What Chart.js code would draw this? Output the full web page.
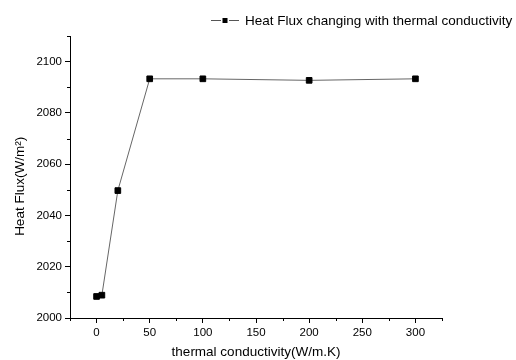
<!DOCTYPE html>
<html>
<head>
<meta charset="utf-8">
<script src="https://cdn.jsdelivr.net/npm/chart.js@4"></script>
<style>
html,body{margin:0;padding:0;background:#fff;}
#wrap{width:516px;height:360px;position:relative;}
</style>
</head>
<body>
<div id="wrap"><canvas id="c" width="516" height="360"></canvas></div>
<script>
const conductivity = [0, 5, 20, 50, 100, 200, 300];
const heatFlux = [2008.4, 2008.9, 2049.7, 2093.3, 2093.3, 2092.7, 2093.3];
const seriesLabel = 'Heat Flux changing with thermal conductivity';
const xTitle = 'thermal conductivity(W/m.K)';
const yTitle = 'Heat Flux(W/m\u00B2)     ';
const xMajorTicks = [0, 50, 100, 150, 200, 250, 300];
const xMinorTicks = [-25, 25, 75, 125, 175, 225, 275, 325];
const yMajorTicks = [2000, 2020, 2040, 2060, 2080, 2100];
const yMinorTicks = [2010, 2030, 2050, 2070, 2090, 2110];

const FONT = 'Liberation Sans, Arial, sans-serif';

const minorTickPlugin = {
  id: 'minorTicks',
  afterDraw(chart) {
    const ctx = chart.ctx;
    const xs = chart.scales.x, ys = chart.scales.y;
    ctx.save();
    ctx.strokeStyle = '#000';
    ctx.lineWidth = 1;
    ctx.beginPath();
    xMinorTicks.forEach(v => {
      const px = Math.round(xs.getPixelForValue(v)) + 0.5;
      ctx.moveTo(px, xs.top);
      ctx.lineTo(px, xs.top + 3);
    });
    yMinorTicks.forEach(v => {
      const py = Math.round(ys.getPixelForValue(v)) + 0.5;
      ctx.moveTo(ys.right, py);
      ctx.lineTo(ys.right - 3, py);
    });
    ctx.stroke();
    // legend
    const lx = 211, ly = 20;
    ctx.strokeStyle = '#555';
    ctx.beginPath();
    ctx.moveTo(lx, ly + 0.5); ctx.lineTo(lx + 10, ly + 0.5);
    ctx.moveTo(lx + 18, ly + 0.5); ctx.lineTo(lx + 28, ly + 0.5);
    ctx.stroke();
    ctx.fillStyle = '#000';
    ctx.fillRect(lx + 11.5, ly - 2, 5, 5);
    ctx.font = '13.5px ' + FONT;
    ctx.textBaseline = 'middle';
    ctx.textAlign = 'left';
    ctx.fillText(seriesLabel, lx + 34, ly + 1);
    ctx.restore();
  }
};

const tickSetter = (majors, minors) => (scale) => {
  scale.ticks = majors.concat(minors).sort((a, b) => a - b).map(v => ({ value: v }));
};

new Chart(document.getElementById('c'), {
  type: 'scatter',
  data: {
    datasets: [{
      label: seriesLabel,
      data: conductivity.map((x, i) => ({ x: x, y: heatFlux[i] })),
      showLine: true,
      borderColor: '#666',
      borderWidth: 1,
      pointStyle: 'rect',
      pointRadius: 4,
      pointBorderWidth: 1,
      pointBackgroundColor: '#000',
      pointBorderColor: '#000'
    }]
  },
  options: {
    responsive: false,
    animation: false,
    devicePixelRatio: 1,
    layout: { padding: { left: 12, top: 36, right: 74, bottom: 0 } },
    plugins: { legend: { display: false }, tooltip: { enabled: false } },
    scales: {
      x: {
        type: 'linear',
        min: -25, max: 325,
        afterBuildTicks: tickSetter(xMajorTicks, xMinorTicks),
        afterFit: (s) => { s.height = 42; },
        grid: {
          drawOnChartArea: false, drawTicks: true, tickLength: 5,
          tickColor: (c) => (c.tick && xMajorTicks.includes(c.tick.value)) ? '#000' : 'rgba(0,0,0,0)'
        },
        border: { display: true, color: '#000', width: 1 },
        ticks: {
          autoSkip: false, maxRotation: 0, padding: 3,
          color: '#000', font: { family: FONT, size: 11.5 },
          callback: (v) => xMajorTicks.includes(v) ? String(v) : ''
        },
        title: { display: true, text: xTitle, color: '#000', font: { family: FONT, size: 13.5 }, padding: { top: 0, bottom: 0 } }
      },
      y: {
        type: 'linear',
        min: 2000, max: 2110,
        afterBuildTicks: tickSetter(yMajorTicks, yMinorTicks),
        afterFit: (s) => { s.width = 58; },
        grid: {
          drawOnChartArea: false, drawTicks: true, tickLength: 5,
          tickColor: (c) => (c.tick && yMajorTicks.includes(c.tick.value)) ? '#000' : 'rgba(0,0,0,0)'
        },
        border: { display: true, color: '#000', width: 1 },
        ticks: {
          autoSkip: false, padding: 3,
          color: '#000', font: { family: FONT, size: 11.5 },
          callback: (v) => yMajorTicks.includes(v) ? String(v) : ''
        },
        title: { display: true, text: yTitle, color: '#000', font: { family: FONT, size: 13.5 }, padding: { top: 0, bottom: 0 } }
      }
    }
  },
  plugins: [minorTickPlugin]
});
</script>
</body>
</html>
